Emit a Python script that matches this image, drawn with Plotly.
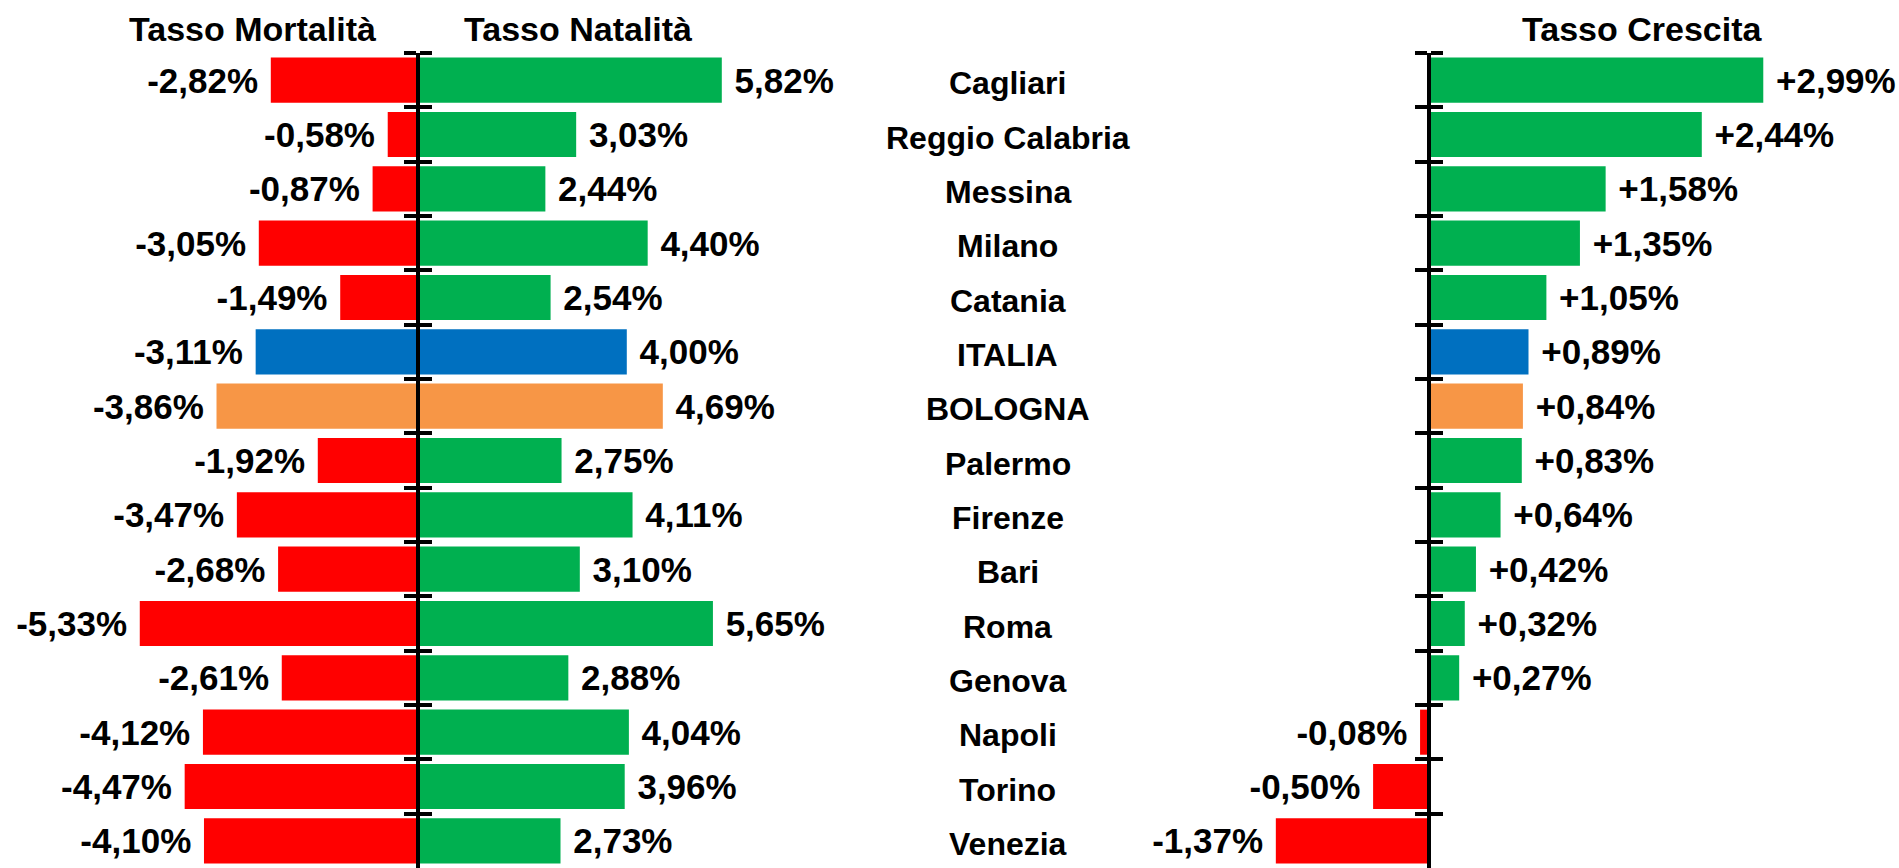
import plotly.graph_objects as go

cities = ["Cagliari", "Reggio Calabria", "Messina", "Milano", "Catania", "ITALIA",
          "BOLOGNA", "Palermo", "Firenze", "Bari", "Roma", "Genova", "Napoli",
          "Torino", "Venezia"]
mortalita = [-2.82, -0.58, -0.87, -3.05, -1.49, -3.11, -3.86, -1.92, -3.47, -2.68,
             -5.33, -2.61, -4.12, -4.47, -4.10]
natalita = [5.82, 3.03, 2.44, 4.40, 2.54, 4.00, 4.69, 2.75, 4.11, 3.10, 5.65, 2.88,
            4.04, 3.96, 2.73]
crescita = [2.99, 2.44, 1.58, 1.35, 1.05, 0.89, 0.84, 0.83, 0.64, 0.42, 0.32, 0.27,
            -0.08, -0.50, -1.37]
titles = ["Tasso Mortalità", "Tasso Natalità", "Tasso Crescita"]

RED, GREEN, BLUE, ORANGE = "#FF0000", "#00B050", "#0070C0", "#F79646"
FONT = "Liberation Sans Narrow, Arial Narrow, Liberation Sans, Arial, sans-serif"
FS_VAL = 35
FS_NAME = 32
FS_TITLE = 34


def colour(city, v):
    if city == "ITALIA":
        return BLUE
    if city == "BOLOGNA":
        return ORANGE
    return GREEN if v >= 0 else RED


def fmt(v, sign=False):
    return (f"{v:+.2f}" if sign else f"{v:.2f}").replace(".", ",") + "%"


W, H = 1899, 868
axL = 418 / W
axR = 1429 / W
valfont = dict(family=FONT, size=FS_VAL, color="black", weight="bold")

fig = go.Figure()
fig.add_trace(go.Bar(
    x=mortalita, y=cities, orientation="h", xaxis="x", yaxis="y",
    marker=dict(color=[colour(c, -1) for c in cities], line=dict(width=0)),
    text=[fmt(v) + " " for v in mortalita], textposition="outside",
    constraintext="none", cliponaxis=False, width=0.83,
    textfont=valfont, hoverinfo="skip"))
fig.add_trace(go.Bar(
    x=natalita, y=cities, orientation="h", xaxis="x", yaxis="y2",
    marker=dict(color=[colour(c, 1) for c in cities], line=dict(width=0)),
    text=[" " + fmt(v) for v in natalita], textposition="outside",
    constraintext="none", cliponaxis=False, width=0.83,
    textfont=valfont, hoverinfo="skip"))
fig.add_trace(go.Bar(
    x=crescita, y=cities, orientation="h", xaxis="x3", yaxis="y3",
    marker=dict(color=[colour(c, v) for c, v in zip(cities, crescita)], line=dict(width=0)),
    text=[(" " + fmt(v, True)) if v >= 0 else (fmt(v, True) + " ") for v in crescita],
    textposition="outside", constraintext="none", cliponaxis=False, width=0.83,
    textfont=valfont, hoverinfo="skip"))
fig.add_trace(go.Bar(
    x=[0] * len(cities), y=cities, orientation="h", xaxis="x3", yaxis="y4",
    marker=dict(color="rgba(0,0,0,0)"), hoverinfo="skip", showlegend=False))

yax = dict(type="category", categoryorder="array", categoryarray=cities,
           range=[len(cities) - 0.5, -0.5], anchor="free", showticklabels=False,
           ticks="outside", tickson="boundaries", ticklen=12, tickwidth=4,
           tickcolor="black", showline=True, linewidth=4, linecolor="black",
           showgrid=False, zeroline=False, domain=[0, 1], fixedrange=True)

fig.update_layout(
    width=W, height=H, margin=dict(l=0, r=0, t=53, b=0),
    paper_bgcolor="white", plot_bgcolor="rgba(0,0,0,0)", showlegend=False,
    barmode="overlay",
    font=dict(family=FONT, size=FS_VAL, color="black", weight="bold"),
    xaxis=dict(domain=[0, 800 / W], range=[-418 / 52.2, 382 / 52.2], visible=False,
               anchor="y"),
    xaxis2=dict(domain=[0.4308, 0.6308], range=[0, 1], visible=False, anchor="y"),
    xaxis3=dict(domain=[1180 / W, 1], range=[-(1429 - 1180) / 111.8, (W - 1429) / 111.8],
                visible=False, anchor="y3"),
    yaxis=dict(yax, side="left", position=axL),
    yaxis2=dict(yax, side="right", position=axL, overlaying="y", matches="y"),
    yaxis3=dict(yax, side="left", position=axR),
    yaxis4=dict(yax, side="right", position=axR, overlaying="y3", matches="y3"),
)

# city names in the middle column
for c in cities:
    fig.add_annotation(text=c, x=0.5, y=c, xref="x2", yref="y", showarrow=False,
                       xanchor="center", yanchor="middle", yshift=-3,
                       font=dict(family=FONT, size=FS_NAME, color="black", weight="bold"))

for t, xc in zip(titles, [252, 578, 1642]):
    fig.add_annotation(text=t, x=xc / W, y=1 + (53 - 29) / (H - 53), xref="paper",
                       yref="paper", showarrow=False, xanchor="center", yanchor="middle",
                       font=dict(family=FONT, size=FS_TITLE, color="black", weight="bold"))

fig.write_html("out.html", config={"displayModeBar": False, "staticPlot": True},
               post_script="document.body.style.margin='0';document.body.style.overflow='hidden';")
